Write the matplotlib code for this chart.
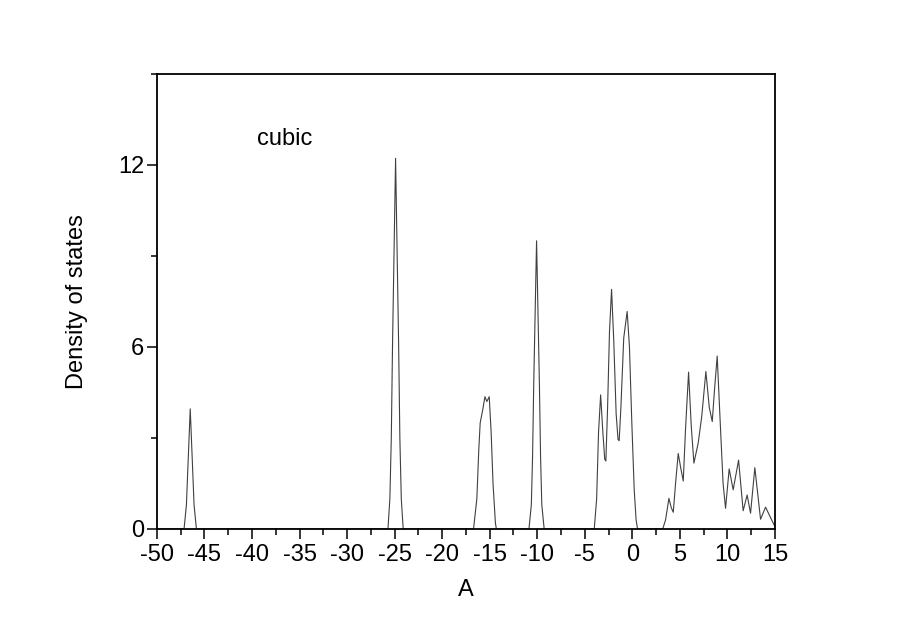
import matplotlib.pyplot as plt
from matplotlib.ticker import MultipleLocator

plt.rcParams['font.family'] = ['Liberation Sans', 'DejaVu Sans']
plt.rcParams['axes.unicode_minus'] = False

# curve: energy A and density of states
energia = [
    -50.0, -47.15, -46.9, -46.75, -46.5, -46.25, -46.1, -45.85,
    -25.7, -25.5, -25.35, -25.22, -24.9, -24.58, -24.45, -24.3, -24.1,
    -16.7, -16.35, -16.15, -16.0, -15.75, -15.5, -15.3, -15.05, -14.85, -14.65, -14.4, -14.3,
    -10.87, -10.62, -10.49, -10.37, -10.07, -9.77, -9.65, -9.52, -9.27,
    -4.0, -3.75, -3.55, -3.33, -3.1, -2.9, -2.78, -2.6, -2.4, -2.18, -1.95, -1.7, -1.5, -1.38,
    -1.2, -0.9, -0.54, -0.3, -0.05, 0.2, 0.4, 0.55,
    3.2, 3.5, 3.85, 4.1, 4.31, 4.55, 4.83, 5.1, 5.36, 5.6, 5.92, 6.2, 6.48, 6.93, 7.3,
    7.74, 8.1, 8.41, 8.65, 8.93, 9.25, 9.55, 9.81, 10.19, 10.61, 11.18, 11.66, 12.08,
    12.44, 12.89, 13.49, 14.02, 14.5, 15.0,
]
dos = [
    0.0, 0.0, 0.8, 2.0, 3.96, 2.0, 0.8, 0.0,
    0.0, 1.0, 3.0, 6.1, 12.22, 6.1, 3.0, 1.0, 0.0,
    0.0, 1.0, 2.6, 3.5, 3.9, 4.36, 4.2, 4.36, 3.2, 1.5, 0.2, 0.0,
    0.0, 0.8, 2.4, 4.75, 9.5, 4.75, 2.4, 0.8, 0.0,
    0.0, 1.0, 3.2, 4.42, 3.2, 2.3, 2.24, 4.0, 6.5, 7.9, 6.2, 3.8, 2.95, 2.91,
    4.0, 6.3, 7.17, 6.0, 3.5, 1.3, 0.3, 0.0,
    0.0, 0.3, 1.01, 0.7, 0.55, 1.5, 2.49, 2.0, 1.58, 3.3, 5.17, 3.4, 2.17, 2.83, 3.7,
    5.19, 4.0, 3.54, 4.6, 5.7, 3.5, 1.5, 0.68, 1.98, 1.29, 2.27, 0.6, 1.12,
    0.52, 2.02, 0.32, 0.72, 0.4, 0.08,
]

fig = plt.figure(figsize=(9, 6.35), dpi=100)
ax = fig.add_axes([0.1744, 0.167, 0.6866, 0.7165])

ax.plot(energia, dos, color='#404040', linewidth=0.8)

ax.set_xlim(-50, 15)
ax.set_ylim(0, 15)
ax.xaxis.set_major_locator(MultipleLocator(5))
ax.xaxis.set_minor_locator(MultipleLocator(2.5))
ax.yaxis.set_major_locator(MultipleLocator(6))
ax.yaxis.set_minor_locator(MultipleLocator(3))
ax.tick_params(which='major', direction='out', length=7, width=1.1, labelsize=17)
ax.tick_params(axis='y', which='major', pad=2)
ax.tick_params(axis='x', which='major', pad=4)
ax.tick_params(which='minor', direction='out', length=4, width=1.1)
for s in ax.spines.values():
    s.set_linewidth(1.3)

ax.set_xlabel('A', fontsize=17)
ax.set_ylabel('Density of states', fontsize=17)
ax.xaxis.label.set_va('center')
ax.yaxis.label.set_va('center')
ax.xaxis.set_label_coords(0.5, -0.134)
ax.yaxis.set_label_coords(-0.129, 0.5)
ax.text(-36.6, 12.85, 'cubic', fontsize=17, ha='center', va='center')

fig.savefig('out.png', dpi=100)
